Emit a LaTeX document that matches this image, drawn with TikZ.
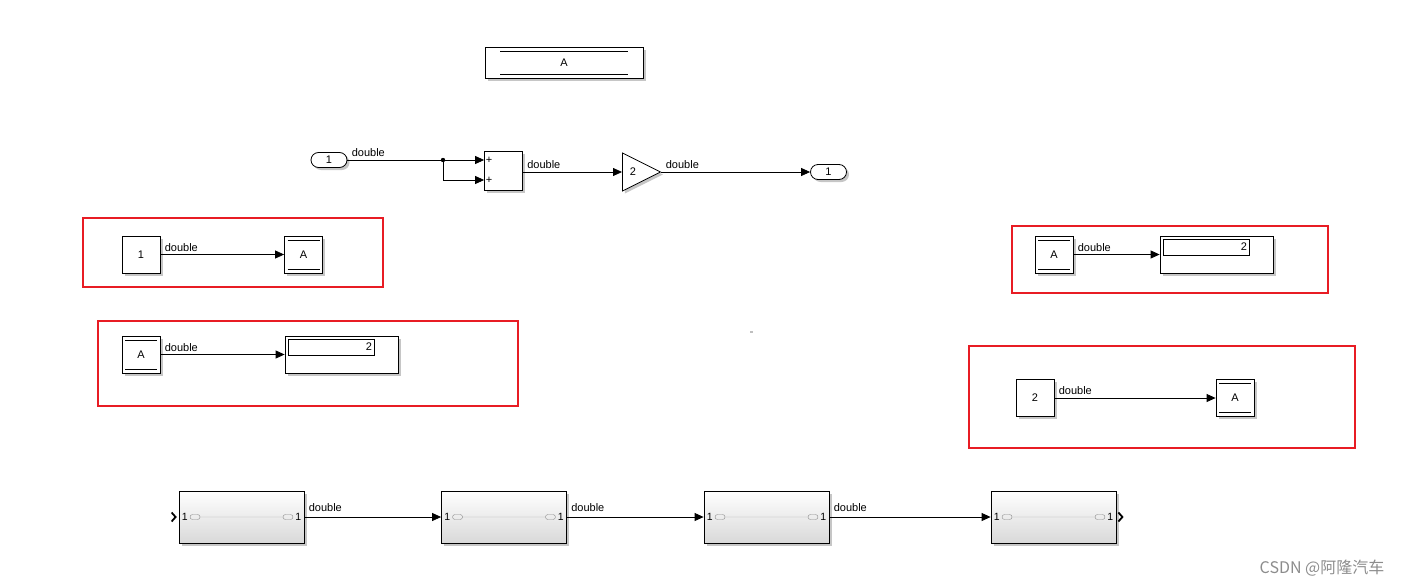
\documentclass[tikz,border=0pt]{standalone}
\usepackage{fontspec}
\setmainfont{Liberation Sans}
\newfontfamily\cjkfont{Noto Sans CJK SC}
\usetikzlibrary{arrows.meta,positioning,shapes.misc,shapes.geometric,shadows}
\definecolor{annot}{RGB}{232,28,36}

\tikzset{
  sig/.style={-{Triangle[length=9pt,width=8pt]}, line width=0.8pt},
  lbl/.style={anchor=south west, inner sep=1pt, xshift=3pt, yshift=1.5pt},
  shd/.style={drop shadow={shadow xshift=2.5pt, shadow yshift=-2.5pt, opacity=0.45}},
  blk/.style={draw, line width=0.8pt, fill=white, inner sep=0pt, minimum width=38pt, minimum height=37pt, shd},
  dstore/.style={blk, path picture={
      \draw ([xshift=3pt,yshift=-4pt]path picture bounding box.north west) -- ([xshift=-3pt,yshift=-4pt]path picture bounding box.north east);
      \draw ([xshift=3pt,yshift=4pt]path picture bounding box.south west) -- ([xshift=-3pt,yshift=4pt]path picture bounding box.south east);}},
  dsmem/.style={blk, minimum width=158pt, minimum height=31pt, path picture={
      \draw ([xshift=15pt,yshift=-4pt]path picture bounding box.north west) -- ([xshift=-15pt,yshift=-4pt]path picture bounding box.north east);
      \draw ([xshift=15pt,yshift=4pt]path picture bounding box.south west) -- ([xshift=-15pt,yshift=4pt]path picture bounding box.south east);}},
  disp/.style={blk, minimum width=113pt},
  dval/.style={draw, line width=0.8pt, minimum height=16pt, text width=82pt, align=right, inner sep=2pt},
  port/.style={draw, rounded rectangle, line width=0.8pt, fill=white, minimum width=36pt, minimum height=15pt, inner sep=0pt, shd},
  subsys/.style={draw, line width=0.8pt, top color=white, bottom color=black!15, minimum width=125pt, minimum height=52pt, inner sep=0pt, shd},
  portnum/.style={inner sep=0pt, font=\fontsize{10.5}{12}\selectfont},
  oval/.style={draw=black!45, rounded rectangle, minimum width=10pt, minimum height=5pt, inner sep=0pt},
  redbox/.style={draw=annot, line width=1.6pt},
}

\begin{document}
\begin{tikzpicture}[x=1pt, y=-1pt, every node/.style={font=\fontsize{11}{13}\selectfont}]
	\useasboundingbox (0,0) rectangle (1404,586);

	% data store memory
	\node[dsmem] (mem) at (564,63) {A};

	% model: in -> sum -> gain -> out
	\node[port] (in1) at (329,160) {1};
	\node[blk, minimum height=39pt] (sum) at (503.5,170.5) {};
	\node[isosceles triangle, isosceles triangle stretches, draw, line width=0.8pt, fill=white, minimum width=38pt, minimum height=38pt, inner sep=0pt, anchor=west, shd] (gain) at (622,172) {};
	\node (gainval) at (633,172) {2};
	\node[port] (out1) at (828.5,172) {1};
	\coordinate (bp) at (443,160);
	\coordinate (s1) at (sum.west |- bp);
	\coordinate (s2) at ([yshift=-20pt]s1);
	\node[anchor=west, inner sep=1.5pt] (plus1) at (s1) {+};
	\node[anchor=west, inner sep=1.5pt] (plus2) at (s2) {+};
	\draw[line width=0.8pt] (in1.east) -- node[lbl, pos=0] (l1) {double} (bp);
	\fill (bp) circle (2.2pt);
	\draw[sig] (bp) -- (s1);
	\draw[sig] (bp) |- (s2);
	\draw[sig] (sum.east |- gain.west) -- node[lbl, pos=0] (l2) {double} (gain.west);
	\draw[sig] (gain.east) -- node[lbl, pos=0] (l3) {double} (out1.west);

	% constant 1 -> write A
	\draw[redbox] (83,218) rectangle (383,287);
	\node[blk] (c1) at (141,254.5) {1};
	\node[dstore] (ws1) at (303.5,254.5) {A};
	\draw[sig] (c1.east) -- node[lbl, pos=0] (l4) {double} (ws1.west);

	% read A -> display
	\draw[redbox] (98,321) rectangle (518,406);
	\node[dstore] (rd1) at (141,354.5) {A};
	\node[disp] (disp1) at (341.5,354.5) {};
	\node[dval, below right=3pt and 3pt of disp1.north west] (val1) {2};
	\draw[sig] (rd1.east) -- node[lbl, pos=0] (l5) {double} (disp1.west);

	% read A -> display (right)
	\draw[redbox] (1012,226) rectangle (1328,293);
	\node[dstore] (rd2) at (1054,254.5) {A};
	\node[disp] (disp2) at (1216.5,254.5) {};
	\node[dval, below right=3pt and 3pt of disp2.north west] (val2) {2};
	\draw[sig] (rd2.east) -- node[lbl, pos=0] (l6) {double} (disp2.west);

	% constant 2 -> write A
	\draw[redbox] (969,346) rectangle (1355,448);
	\node[blk] (c2) at (1035,398) {2};
	\node[dstore] (ws2) at (1235,398) {A};
	\draw[sig] (c2.east) -- node[lbl, pos=0] (l7) {double} (ws2.west);

	\fill[black!25] (750,331) rectangle (753,333);

	% subsystem chain
	\node[subsys] (sub1) at (241.5,517) {};
	\node[subsys] (sub2) at (504,517) {};
	\node[subsys] (sub3) at (766.5,517) {};
	\node[subsys] (sub4) at (1053.5,517) {};
	\foreach \s in {sub1,sub2,sub3,sub4} {
		\node[portnum, anchor=west] (\s-i) at ([xshift=3pt]\s.west) {1};
		\node[portnum, anchor=east] (\s-o) at ([xshift=-3pt]\s.east) {1};
		\node[oval, right=2pt of \s-i] (\s-a) {};
		\node[oval, left=2pt of \s-o] (\s-b) {};
		\draw[black!35] (\s-a) -- (\s-b);
	}
	\draw[sig] (sub1.east) -- node[lbl, pos=0, yshift=2pt] (l8) {double} (sub2.west);
	\draw[sig] (sub2.east) -- node[lbl, pos=0, yshift=2pt] (l9) {double} (sub3.west);
	\draw[sig] (sub3.east) -- node[lbl, pos=0, yshift=2pt] (l10) {double} (sub4.west);
	\draw[line width=1.8pt] ([xshift=-7pt,yshift=4.5pt]sub1.west) -- ([xshift=-3pt]sub1.west) -- ([xshift=-7pt,yshift=-4.5pt]sub1.west);
	\draw[line width=1.8pt] ([xshift=2pt,yshift=4.5pt]sub4.east) -- ([xshift=6pt]sub4.east) -- ([xshift=2pt,yshift=-4.5pt]sub4.east);

	% watermark
	\node[text=black!45, font=\fontsize{16}{19}\cjkfont] (wm) at (1322,568) {CSDN @阿隆汽车};
\end{tikzpicture}
\end{document}
